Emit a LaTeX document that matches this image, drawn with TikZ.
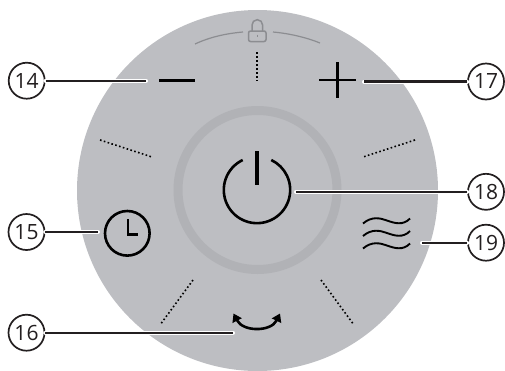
\documentclass[tikz,border=0pt]{standalone}
\usepackage{fontspec}
\setmainfont{Open Sans}
\usetikzlibrary{arrows.meta}
\definecolor{discgray}{HTML}{BDBEC2}
\definecolor{ringgray}{HTML}{B1B2B6}
\definecolor{lockgray}{HTML}{8C8D91}
\definecolor{inkk}{HTML}{231F20}
\tikzset{
  callout/.style={circle,draw=inkk,line width=1.7pt,fill=white,minimum size=36pt,inner sep=0pt,font=\fontsize{21}{21}\selectfont,text=inkk},
  halo/.style={draw=white,line width=4pt,line cap=round},
  leader/.style={draw=inkk,line width=2.2pt},
  icon/.style={draw=black,line width=2.6pt},
  tick/.style={draw=black,line width=1.6pt,dash pattern=on 1.6pt off 2.4pt},
  lockline/.style={draw=lockgray,line width=1.2pt}
}
\begin{document}
\begin{tikzpicture}[x=1pt,y=-1pt]
\clip (0,0) rectangle (505,370);
\fill[discgray] (257.5,190.5) circle[radius=180.5];
\draw[ringgray,line width=9pt] (257.5,190) circle[radius=79.5];
% ticks
\draw[tick] (257,52) -- (257,81);
\draw[tick] (100,140) -- (152,157);
\draw[tick] (415,140) -- (363,157);
\draw[tick] (193,280) -- (160,325);
\draw[tick] (321,280) -- (354,325);
% lock
\draw[lockline] (195,44) .. controls (210,37) and (226,33.5) .. (243,32);
\draw[lockline] (273,32) .. controls (289,33.5) and (305,37) .. (320,43);
\draw[lockgray,line width=1.5pt,rounded corners=2pt] (248.5,31) rectangle (266,41.5);
\draw[lockgray,line width=1.5pt] (252,31) -- (252,25) arc[start angle=180,end angle=360,radius=5.3] -- (262.6,31);
\draw[lockgray,line width=1.3pt] (257.2,34.5) -- (257.2,37);
% minus plus
\draw[icon] (159,80.5) -- (195,80.5);
\draw[icon,line width=2.2pt] (319,80) -- (356,80);
\draw[icon,line width=2.2pt] (337.5,62) -- (337.5,98);
% power
\draw[icon] (242.7,160) arc[start angle=244.5,end angle=-64.5,radius=33.2];
\draw[icon,line width=3.4pt] (257,151) -- (257,184.5);
% clock
\draw[icon] (127.3,233.3) circle[radius=22.3];
\draw[icon] (128,219) -- (128,234.5) -- (138,234.5);
% swap arrows
\draw[icon,{Triangle[length=8pt,width=10pt]}-{Triangle[length=8pt,width=10pt]}] (233.5,313.5) .. controls (243,332) and (271,332) .. (280,313.5);
% waves
\draw[icon,line width=1.9pt] (363,223.5) .. controls (372,216) and (380,218) .. (387,220.5) .. controls (394,223) and (403,226) .. (410,218.5);
\draw[icon,line width=1.9pt] (363,236) .. controls (372,228.5) and (380,230.5) .. (387,233) .. controls (394,235.5) and (403,238.5) .. (410,231);
\draw[icon,line width=1.9pt] (363,248.5) .. controls (372,241) and (380,243) .. (387,245.5) .. controls (394,248) and (403,251) .. (410,243.5);
% callouts
\node[callout] (c14) at (26.7,80.7) {14};
\node[callout] (c15) at (26.5,232) {15};
\node[callout] (c16) at (26.5,332.7) {16};
\node[callout] (c17) at (486,81.5) {17};
\node[callout] (c18) at (486,191.8) {18};
\node[callout] (c19) at (486,242.7) {19};
\coordinate (e14) at (146,80.7);
\coordinate (e15) at (98,232);
\coordinate (e16) at (233,332.7);
\coordinate (e17) at (364,81.5);
\coordinate (e18) at (296,191.8);
\coordinate (e19) at (422,242.7);
\foreach \n in {14,15,16,17,18,19}{
  \draw[halo] (c\n) -- (e\n);
}
\foreach \n in {14,15,16,17,18,19}{
  \draw[leader] (c\n) -- (e\n);
}
\end{tikzpicture}
\end{document}
